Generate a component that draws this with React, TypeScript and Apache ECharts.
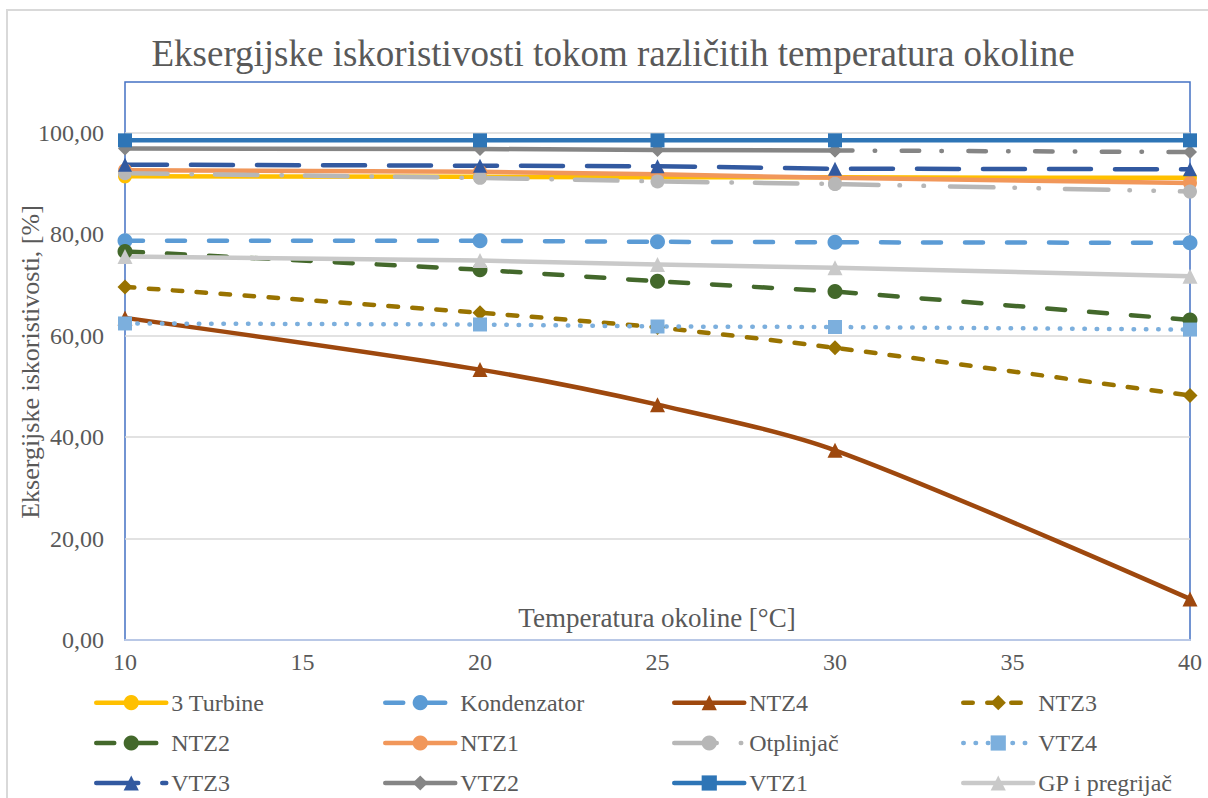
import React, { useEffect, useRef } from 'react';
import * as echarts from 'echarts';

// ---- data ----
const TEMPERATURES = [10, 20, 25, 30, 40];
const X_MIN = 10;
const X_MAX = 40;
const X_STEP = 5;
const Y_MIN = 0;
const Y_MAX = 110;
const Y_STEP = 20;

const TURBINE_3 = [91.4, 91.3, 91.2, 91.2, 91.1];
const KONDENZATOR = [78.7, 78.7, 78.5, 78.4, 78.3];
const NTZ4 = [63.5, 53.3, 46.4, 37.4, 8.1];
const NTZ3 = [69.6, 64.5, 61.6, 57.6, 48.2];
const NTZ2 = [76.6, 73.0, 70.7, 68.7, 63.1];
const NTZ1 = [92.6, 92.3, 91.8, 91.1, 90.1];
const OTPLINJAC = [92.0, 91.1, 90.4, 89.9, 88.4];
const VTZ4 = [62.4, 62.2, 61.8, 61.7, 61.2];
const VTZ3 = [93.7, 93.5, 93.4, 92.9, 92.8];
const VTZ2 = [96.9, 96.8, 96.6, 96.5, 96.2];
const VTZ1 = [98.5, 98.5, 98.5, 98.5, 98.5];
const GP_PREGRIJAC = [75.6, 74.8, 74.0, 73.4, 71.7];

const TITLE = 'Eksergijske iskoristivosti tokom različitih temperatura okoline';
const X_NAME = 'Temperatura okoline [°C]';
const Y_NAME = 'Eksergijske iskoristivosti, [%]';

const LEGEND_ROWS = [
  ['3 Turbine', 'Kondenzator', 'NTZ4', 'NTZ3'],
  ['NTZ2', 'NTZ1', 'Otplinjač', 'VTZ4'],
  ['VTZ3', 'VTZ2', 'VTZ1', 'GP i pregrijač'],
];

const FONT = 'Liberation Serif';
const TEXT = '#595959';

function pts(ys: number[], from = 0, to = ys.length) {
  return TEMPERATURES.slice(from, to).map((x, i) => [x, ys[from + i]]);
}

function line(
  name: string,
  data: number[][],
  color: string,
  symbol: string,
  dash: any,
  extra: any = {}
) {
  return {
    type: 'line',
    name,
    data,
    symbol,
    symbolSize: extra.symbolSize ?? 14,
    showSymbol: true,
    clip: false,
    smooth: extra.smooth ?? false,
    color,
    itemStyle: { color },
    lineStyle: {
      color,
      width: 4.5,
      type: dash,
      cap: 'round',
      join: 'round',
    },
    emphasis: { disabled: true },
  };
}

export default function App() {
  const ref = useRef<HTMLDivElement>(null);

  useEffect(() => {
    if (!ref.current) return;
    const chart = echarts.init(ref.current, undefined, { renderer: 'svg' });

    const DASH_K = [18, 24];
    const LONG_DASH = [42, 24];
    const SHORT_DASH = [9.5, 14.5];
    const DOTS = [0.5, 11.8];
    const DASH_DOT_LONG = [42.5, 24, 0.5, 23];
    const DASH_DOT_DOT = [43.5, 21, 0.5, 23.5, 0.5, 26];
    const DASH_DOT_SHORT = [17.5, 22.2, 0.5, 26.5];

    const series = [
      line('3 Turbine', pts(TURBINE_3), '#FFC000', 'circle', 'solid'),
      line('Kondenzator', pts(KONDENZATOR), '#5B9BD5', 'circle', DASH_K, { symbolSize: 15 }),
      line('NTZ4', pts(NTZ4), '#9E480E', 'triangle', 'solid', { smooth: 0.3, symbolSize: 15 }),
      line('NTZ3', pts(NTZ3), '#997300', 'diamond', SHORT_DASH, { smooth: 0.25, symbolSize: 15 }),
      line('NTZ2', pts(NTZ2), '#43682B', 'circle', DASH_K, { symbolSize: 15 }),
      line('NTZ1', pts(NTZ1), '#F1975A', 'circle', 'solid'),
      line('Otplinjač', pts(OTPLINJAC, 0, 4), '#B7B7B7', 'circle', DASH_DOT_LONG),
      line('Otplinjač', pts(OTPLINJAC, 3, 5), '#B7B7B7', 'circle', DASH_DOT_DOT),
      line('VTZ4', pts(VTZ4), '#7CAFDD', 'rect', DOTS),
      line('VTZ3', pts(VTZ3), '#3259A0', 'triangle', LONG_DASH),
      line('VTZ2', pts(VTZ2, 0, 4), '#858585', 'diamond', 'solid'),
      line('VTZ2', pts(VTZ2, 3, 5), '#858585', 'diamond', DASH_DOT_SHORT),
      line('VTZ1', pts(VTZ1), '#2E75B6', 'rect', 'solid'),
      line('GP i pregrijač', pts(GP_PREGRIJAC), '#C9C9C9', 'triangle', 'solid', { symbolSize: 15 }),
    ];

    const ROW_CENTERS = [702.7, 743, 783];
    const legends: any[] = [];
    LEGEND_ROWS.forEach((row, r) => {
      row.forEach((name, c) => {
        legends.push({
          show: true,
          orient: 'horizontal',
          left: 94 + 289 * c,
          top: ROW_CENTERS[r] - 12,
          padding: 0,
          itemWidth: 70,
          itemHeight: 19,
          selectedMode: false,
          data: [name],
          lineStyle: { width: 4.5 },
          textStyle: { fontFamily: FONT, fontSize: 24, color: TEXT, lineHeight: 24 },
        });
      });
    });

    const splitColors: string[] = [];
    for (let v = Y_MIN; v <= Y_MAX; v += Y_STEP) splitColors.push('#D9D9D9');
    splitColors.push('rgba(0,0,0,0)');

    chart.setOption({
      animation: false,
      backgroundColor: '#ffffff',
      textStyle: { fontFamily: FONT },
      grid: {
        left: 125,
        right: 18,
        top: 82,
        bottom: 158,
        show: true,
        borderColor: '#4472C4',
        borderWidth: 1.5,
        backgroundColor: 'transparent',
      },
      legend: legends,
      xAxis: {
        type: 'value',
        min: X_MIN,
        max: X_MAX,
        interval: X_STEP,
        axisLine: { show: true, lineStyle: { color: '#B9C8E6', width: 2 } },
        axisTick: { show: false },
        splitLine: { show: false },
        axisLabel: { fontFamily: FONT, fontSize: 24, color: TEXT, margin: 10 },
      },
      yAxis: {
        type: 'value',
        min: Y_MIN,
        max: Y_MAX,
        interval: Y_STEP,
        axisLine: { show: false },
        axisTick: { show: false },
        splitLine: { show: true, lineStyle: { color: splitColors, width: 1.5 } },
        axisLabel: {
          fontFamily: FONT,
          fontSize: 24,
          color: TEXT,
          margin: 21,
          formatter: (v: number) => (v > 100 ? '' : v.toFixed(2).replace('.', ',')),
        },
      },
      graphic: [
        {
          type: 'rect',
          silent: true,
          shape: { x: 7, y: 10, width: 1400, height: 1000 },
          style: { fill: 'none', stroke: '#D9D9D9', lineWidth: 2 },
          z: -10,
        },
        {
          type: 'text',
          x: 613,
          y: 53,
          style: {
            text: TITLE,
            fontFamily: FONT,
            fontSize: 37,
            fill: TEXT,
            align: 'center',
            verticalAlign: 'middle',
          },
        },
        {
          type: 'text',
          x: 657,
          y: 618,
          style: {
            text: X_NAME,
            fontFamily: FONT,
            fontSize: 27,
            fill: TEXT,
            align: 'center',
            verticalAlign: 'middle',
          },
        },
        {
          type: 'text',
          x: 30,
          y: 362,
          rotation: Math.PI / 2,
          style: {
            text: Y_NAME,
            fontFamily: FONT,
            fontSize: 26,
            fill: TEXT,
            align: 'center',
            verticalAlign: 'middle',
          },
        },
      ],
      series,
    });

    return () => chart.dispose();
  }, []);

  return (
    <div
      ref={ref}
      style={{ position: 'fixed', left: 0, top: 0, width: 1208, height: 798 }}
    />
  );
}
